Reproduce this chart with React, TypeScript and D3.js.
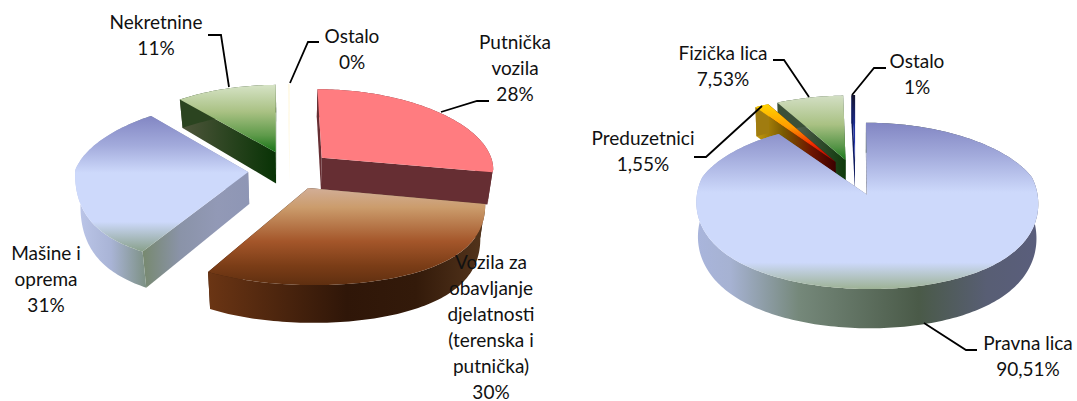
import React from 'react';
import * as d3 from 'd3';

// left chart
const leftNames = ['Putnička vozila', 'Vozila za obavljanje djelatnosti (terenska i putnička)', 'Mašine i oprema', 'Nekretnine', 'Ostalo'];
const leftValues = [28, 30, 31, 11, 0.2];
const leftLabels = ['28%', '30%', '31%', '11%', '0%'];

// right chart
const rightNames = ['Pravna lica', 'Preduzetnici', 'Fizička lica', 'Ostalo'];
const rightValues = [90.51, 1.55, 7.53, 0.41];
const rightLabels = ['90,51%', '1,55%', '7,53%', '1%'];

type Stops = [number, string][];
type Skin = { top: Stops; start: Stops; end: Stops; wall: Stops };

const flat = (c: string): Stops => [[0, c], [1, c]];

const leftSkins: Skin[] = [
  { top: flat('#ff7c80'), start: flat('#662e33'), end: flat('#662e33'), wall: flat('#662e33') },
  {
    top: [[0, '#d2ae97'], [0.2, '#cb9c6c'], [0.55, '#a4562a'], [0.8, '#7b3d17'], [1, '#5f2f10']],
    start: flat('#3a1c0a'),
    end: flat('#3a1c0a'),
    wall: [[0, '#6b3514'], [0.5, '#2f1608'], [0.75, '#331a0a'], [1, '#54351c']],
  },
  {
    top: [[0, '#8286c3'], [0.22, '#a3abdc'], [0.42, '#cdd9fb'], [0.78, '#cdd9fb'], [1, '#88a08a']],
    start: [[0, '#77896f'], [0.35, '#8a93a8'], [0.7, '#9299b6'], [1, '#8e96b5']],
    end: flat('#8e96b5'),
    wall: [[0, '#bdc7ea'], [0.45, '#a9b4d6'], [1, '#728870']],
  },
  {
    top: [[0, '#d6e3c6'], [0.4, '#a9c183'], [0.75, '#5e9a4a'], [1, '#167316']],
    start: [[0, '#50563c'], [0.5, '#2b4420'], [1, '#083305']],
    end: flat('#083305'),
    wall: flat('#2b4420'),
  },
  { top: flat('#fff9e6'), start: flat('#fff9e6'), end: flat('#fff9e6'), wall: flat('#fffdf4') },
];

const rightSkins: Skin[] = [
  {
    top: [[0, '#8286c3'], [0.2, '#a3abdc'], [0.42, '#cdd9fb'], [0.84, '#cdd9fb'], [1, '#9db295']],
    start: flat('#6f7590'),
    end: flat('#6f7590'),
    wall: [[0, '#a9b5dc'], [0.1, '#a6b2d2'], [0.3, '#75887a'], [0.65, '#4a5a48'], [0.85, '#585e74'], [1, '#5a5e7c']],
  },
  {
    top: [[0, '#ffd400'], [0.4, '#ff9a00'], [0.7, '#f02a00'], [1, '#9c0000']],
    start: [[0, '#c49a10'], [0.35, '#7a5a00'], [0.7, '#6e1400'], [1, '#3c0000']],
    end: flat('#3c0000'),
    wall: flat('#a07c10'),
  },
  {
    top: [[0, '#d3dfc4'], [0.45, '#a9c183'], [0.8, '#559447'], [1, '#1a7a1a']],
    start: [[0, '#6c7670'], [0.5, '#3b5038'], [1, '#0e3a0a']],
    end: flat('#0e3a0a'),
    wall: flat('#3b5038'),
  },
  {
    top: [[0, '#14142e'], [0.5, '#1d2f9c'], [1, '#2a3cc0']],
    start: flat('#101c60'),
    end: flat('#0c1450'),
    wall: flat('#101c60'),
  },
];

const leftView = { id: 'l', cx: 290, cy: 170, r: 173, ry: 80, explode: 0.243, depth: 32, kx: 0.23, kb: 0.13, ky: 0.125, taper: 0.975 };
const rightView = { id: 'r', cx: 855.5, cy: 177, r: 169, ry: 77, explode: 0.234, depth: 33, kx: 0.16, kb: 0.13, ky: 0.13, taper: 0.99 };

type View = typeof leftView;

// plane units: x right, y towards the back, z down the side of the pie
const project = (v: View, x: number, y: number, z: number): [number, number] => {
  const sx = y < 0 ? 1 + v.kx * y * y : 1 - v.kb * y;
  const sy = 1 / (1 + v.ky * y);
  return [v.cx + v.r * x * sx * (z ? v.taper : 1), v.cy - v.ry * y * sy + z * v.depth * sy];
};

const line = d3.line();

function gradient(id: string, stops: Stops, vertical: boolean) {
  return (
    <linearGradient key={id} id={id} x1="0" y1="0" x2={vertical ? 0 : 1} y2={vertical ? 1 : 0}>
      {stops.map(([o, c], i) => <stop key={i} offset={o} stopColor={c} />)}
    </linearGradient>
  );
}

function Pie3D({ view, values, skins }: { view: View; values: number[]; skins: Skin[] }) {
  const arcs = d3.pie<number>().sort(null)(values);
  const slices = arcs.map((a, i) => {
    const mid = (a.startAngle + a.endAngle) / 2;
    const ox = view.explode * Math.sin(mid);
    const oy = view.explode * Math.cos(mid);
    const n = Math.max(2, Math.ceil((a.endAngle - a.startAngle) / 0.02));
    const rim = d3.range(n + 1).map((k) => {
      const t = a.startAngle + ((a.endAngle - a.startAngle) * k) / n;
      return [ox + Math.sin(t), oy + Math.cos(t)];
    });
    return { i, oy, apex: [ox, oy], rim };
  });
  // back slices first
  const ordered = slices.slice().sort((a, b) => b.oy - a.oy);

  return (
    <g>
      <defs>
        {skins.flatMap((s, i) => [
          gradient(`${view.id}-top-${i}`, s.top, true),
          gradient(`${view.id}-start-${i}`, s.start, false),
          gradient(`${view.id}-end-${i}`, s.end, false),
          gradient(`${view.id}-wall-${i}`, s.wall, false),
        ])}
      </defs>
      {ordered.map(({ i, apex, rim }) => {
        const p = (pt: number[], z: number) => project(view, pt[0], pt[1], z);
        const first = rim[0];
        const last = rim[rim.length - 1];
        const wall = [...rim.map((q) => p(q, 0)), ...rim.slice().reverse().map((q) => p(q, 1))];
        return (
          <g key={i}>
            <path d={line([p(apex, 0), p(last, 0), p(last, 1), p(apex, 1)])! + 'Z'} fill={`url(#${view.id}-end-${i})`} />
            <path d={line([p(apex, 0), p(first, 0), p(first, 1), p(apex, 1)])! + 'Z'} fill={`url(#${view.id}-start-${i})`} />
            <path d={line(wall)! + 'Z'} fill={`url(#${view.id}-wall-${i})`} />
            <path d={line([p(apex, 0), ...rim.map((q) => p(q, 0))])! + 'Z'} fill={`url(#${view.id}-top-${i})`} />
          </g>
        );
      })}
    </g>
  );
}

// label layout: centre x, first baseline, text lines
const labelGap = 26;
const labelLayout = [
  { x: 156, y: 29, lines: [leftNames[3], leftLabels[3]] },
  { x: 352, y: 43, lines: [leftNames[4], leftLabels[4]] },
  { x: 515, y: 49, lines: ['Putnička', 'vozila', leftLabels[0]] },
  { x: 491, y: 268.5, lines: ['Vozila za', 'obavljanje', 'djelatnosti', '(terenska i', 'putnička)', leftLabels[1]] },
  { x: 46, y: 260, lines: ['Mašine i', 'oprema', leftLabels[2]] },
  { x: 723, y: 60, lines: [rightNames[2], rightLabels[2]] },
  { x: 917, y: 68, lines: [rightNames[3], rightLabels[3]] },
  { x: 643, y: 145, lines: [rightNames[1], rightLabels[1]] },
  { x: 1028, y: 350, lines: [rightNames[0], rightLabels[0]] },
];

const leaders: [number, number][][] = [
  [[208, 35], [221, 35], [229, 87]],
  [[319, 42], [308, 42], [290, 83]],
  [[489, 101], [477, 101], [441, 112]],
  [[773, 60], [784, 60], [809, 97]],
  [[886, 68], [874, 68], [852, 95]],
  [[694, 157], [706, 157], [762, 106]],
  [[977, 350], [966, 350], [924, 323]],
];

export default function App() {
  return (
    <svg width={1077} height={401} style={{ position: 'absolute', left: 0, top: 0, display: 'block' }}>
      <rect width={1077} height={401} fill="#fff" />
      <Pie3D view={leftView} values={leftValues} skins={leftSkins} />
      <Pie3D view={rightView} values={rightValues} skins={rightSkins} />
      {leaders.map((l, i) => (
        <path key={i} d={line(l)!} fill="none" stroke="#000" strokeWidth={1.8} />
      ))}
      <g fontFamily="Lato, 'Open Sans', sans-serif" fontSize={19} fill="#111" textAnchor="middle">
        {labelLayout.map((l, i) =>
          l.lines.map((t, k) => (
            <text key={`${i}-${k}`} x={l.x} y={l.y + k * labelGap}>{t}</text>
          ))
        )}
      </g>
    </svg>
  );
}
